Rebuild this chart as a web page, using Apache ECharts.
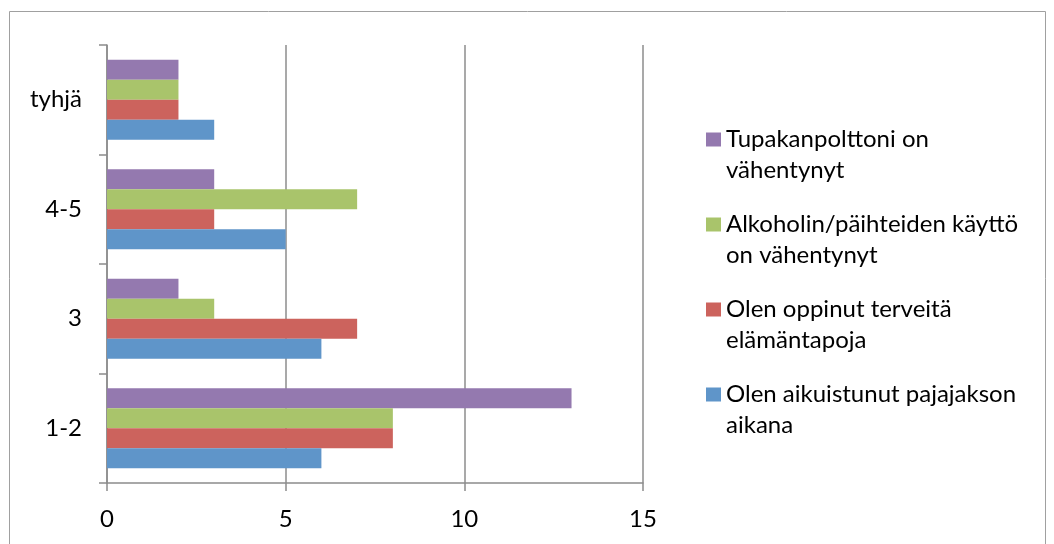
<!DOCTYPE html>
<html>
<head>
<meta charset="utf-8">
<script src="https://cdn.jsdelivr.net/npm/echarts@6/dist/echarts.min.js"></script>
<style>
html,body{margin:0;padding:0;background:#fff;}
#c{width:1054px;height:544px;}
</style>
</head>
<body>
<div id="c"></div>
<script>
// Data
var categories = ['1-2', '3', '4-5', 'tyhjä'];
var seriesNames = [
  'Tupakanpolttoni on\nvähentynyt',
  'Alkoholin/päihteiden käyttö\non vähentynyt',
  'Olen oppinut terveitä\nelämäntapoja',
  'Olen aikuistunut pajajakson\naikana'
];
var tupakka = [13, 2, 3, 2];
var alkoholi = [8, 3, 7, 2];
var terveet = [8, 7, 3, 2];
var aikuistunut = [6, 6, 5, 3];
var xTicks = [0, 5, 10, 15];

var colors = ['#9479AF', '#A9C46B', '#CC635D', '#5F95C9'];
var values = [tupakka, alkoholi, terveet, aikuistunut];
var FONT = 'Lato';
var FS = 24;
var axisColor = '#8c8c8c';

var chart = echarts.init(document.getElementById('c'));
var series = seriesNames.map(function (n, i) {
  return {
    name: n,
    type: 'bar',
    data: values[i],
    barWidth: 20,
    barGap: '0%',
    itemStyle: { color: colors[i] }
  };
});

chart.setOption({
  animation: false,
  backgroundColor: '#fff',
  textStyle: { fontFamily: FONT },
  graphic: [{
    type: 'rect',
    shape: { x: 9.5, y: 11.5, width: 1036, height: 540 },
    style: { fill: 'none', stroke: '#a0a0a0', lineWidth: 1 },
    silent: true
  }],
  grid: { left: 107, right: 411, top: 45, bottom: 61, containLabel: false },
  xAxis: {
    type: 'value',
    min: xTicks[0],
    max: xTicks[xTicks.length - 1],
    interval: xTicks[1] - xTicks[0],
    axisLine: { show: true, lineStyle: { color: axisColor, width: 1.5 } },
    axisTick: { show: true, length: 8, lineStyle: { color: axisColor, width: 1.5 } },
    splitLine: { show: true, lineStyle: { color: axisColor, width: 1.5 } },
    axisLabel: { margin: 24, color: '#000', fontSize: FS, fontFamily: FONT }
  },
  yAxis: {
    type: 'category',
    data: categories,
    axisLine: { show: true, lineStyle: { color: axisColor, width: 1.5 } },
    axisTick: { show: true, length: 8, lineStyle: { color: axisColor, width: 1.5 } },
    axisLabel: { margin: 25, color: '#000', fontSize: FS, fontFamily: FONT }
  },
  legend: {
    orient: 'vertical',
    left: 706,
    top: 93,
    padding: 0,
    itemWidth: 15,
    itemHeight: 14,
    itemGap: -8,
    icon: 'rect',
    selectedMode: false,
    formatter: function (name) { return '\n' + name; },
    textStyle: { fontSize: FS, lineHeight: 31, color: '#000', fontFamily: FONT },
    data: seriesNames
  },
  series: series
});
</script>
</body>
</html>
